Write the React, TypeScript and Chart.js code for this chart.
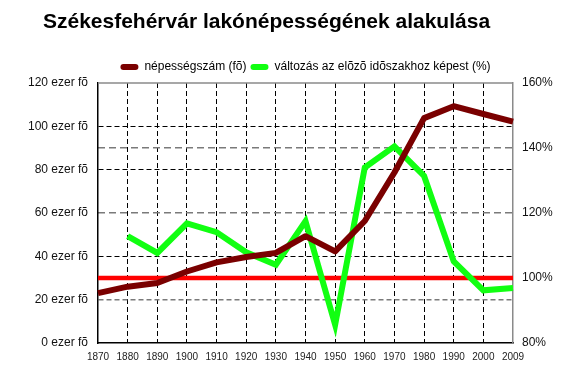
import React, { useEffect, useRef } from "react";
import { Chart, registerables } from "chart.js";

Chart.register(...registerables);

const TITLE = "Székesfehérvár lakónépességének alakulása";
const years = ["1870", "1880", "1890", "1900", "1910", "1920", "1930", "1940", "1950", "1960", "1970", "1980", "1990", "2000", "2009"];
const population = [23.0, 26.0, 27.7, 33.0, 37.2, 39.7, 41.6, 49.3, 42.3, 56.3, 78.7, 103.8, 109.3, 105.7, 102.2];
const changePct = [null, 112.9, 107.7, 116.8, 114.1, 107.9, 104.1, 117.5, 85.6, 134.0, 140.5, 131.4, 105.1, 96.2, 96.9];
const baseline = years.map(() => 100);
const popLabel = "népességszám (fõ)";
const changeLabel = "változás az elõzõ idõszakhoz képest (%)";
const leftTicks = [0, 20, 40, 60, 80, 100, 120];
const rightTicks = [80, 100, 120, 140, 160];

const FONT = "'Liberation Sans', Arial, sans-serif";

export default function App() {
  const ref = useRef<HTMLCanvasElement | null>(null);

  useEffect(() => {
    const canvas = ref.current;
    if (!canvas) return;

    const framePlugin = {
      id: "frame",
      beforeDatasetsDraw(chart: any) {
        const { ctx, chartArea } = chart;
        ctx.save();
        ctx.strokeStyle = "#8a8a8a";
        ctx.lineWidth = 1.5;
        ctx.beginPath();
        ctx.moveTo(chartArea.left, chartArea.top);
        ctx.lineTo(chartArea.right, chartArea.top);
        ctx.stroke();
        ctx.restore();
      },
      afterDraw(chart: any) {
        const { ctx } = chart;
        ctx.save();
        ctx.font = `bold 21px ${FONT}`;
        ctx.fillStyle = "#000";
        ctx.textAlign = "center";
        ctx.textBaseline = "alphabetic";
        ctx.fillText(TITLE, 266.5, 28);
        ctx.restore();
      },
    };

    const chart = new Chart(canvas, {
      type: "line",
      data: {
        labels: years,
        datasets: [
          {
            label: "base",
            data: baseline,
            yAxisID: "y1",
            borderColor: "#ff0000",
            backgroundColor: "#ff0000",
            borderWidth: 4.5,
            pointRadius: 0,
            tension: 0,
            order: 3,
          },
          {
            label: changeLabel,
            data: changePct,
            yAxisID: "y1",
            borderColor: "#11ff11",
            backgroundColor: "#11ff11",
            borderWidth: 6,
            pointRadius: 0,
            tension: 0,
            order: 2,
          },
          {
            label: popLabel,
            data: population,
            yAxisID: "y",
            borderColor: "#7a0000",
            backgroundColor: "#7a0000",
            borderWidth: 6,
            pointRadius: 0,
            tension: 0,
            borderJoinStyle: "round",
            order: 1,
          },
        ],
      },
      options: {
        animation: false,
        responsive: true,
        maintainAspectRatio: false,
        layout: { padding: { top: 57, left: 0, right: 0, bottom: 0 } },
        plugins: {
          title: { display: false },
          tooltip: { enabled: false },
          legend: {
            display: true,
            position: "top",
            fullSize: false,
            labels: {
              font: { family: FONT, size: 12 },
              color: "#000",
              boxWidth: 18,
              boxHeight: 6,
              padding: 4,
              useBorderRadius: true,
              borderRadius: 3,
              generateLabels(chart: any) {
                const items = Chart.defaults.plugins.legend.labels.generateLabels(chart);
                return items
                  .filter((it: any) => it.text !== "base")
                  .map((it: any) => ({ ...it, lineWidth: 0 }))
                  .sort((a: any, b: any) => (a.text === popLabel ? -1 : b.text === popLabel ? 1 : 0));
              },
            },
          },
        },
        scales: {
          x: {
            type: "category",
            offset: false,
            afterFit(scale: any) {
              scale.height = 24;
            },
            grid: {
              drawTicks: false,
              color: (c: any) => (c.index === 0 || c.index === years.length - 1 ? "rgba(0,0,0,0)" : "#000"),
              lineWidth: 1,
            },
            border: { display: true, color: "#000", width: 1.5, dash: [5, 3] },
            ticks: {
              font: { family: FONT, size: 10 },
              color: "#222",
              padding: 8,
              autoSkip: false,
              maxRotation: 0,
            },
          },
          y: {
            position: "left",
            min: 0,
            max: 120,
            afterFit(scale: any) {
              scale.width = 98;
            },
            afterBuildTicks(scale: any) {
              scale.ticks = leftTicks.map((v) => ({ value: v }));
            },
            grid: {
              drawTicks: false,
              color: (c: any) => {
                const v = c.tick ? c.tick.value : null;
                if (v === 0 || v === 120 || v === 60) return "rgba(0,0,0,0)";
                if (v === 20) return "#7a7a7a";
                return "#000";
              },
              lineWidth: (c: any) => {
                const v = c.tick ? c.tick.value : null;
                return v === 20 ? 1.6 : 1;
              },
            },
            border: { display: true, color: "#000", width: 1.5, dash: [5, 3] },
            ticks: {
              font: { family: FONT, size: 12 },
              color: "#111",
              padding: 10,
              callback: (v: any) => `${v} ezer fõ`,
            },
          },
          y1: {
            position: "right",
            min: 80,
            max: 160,
            afterFit(scale: any) {
              scale.width = 62;
            },
            afterBuildTicks(scale: any) {
              scale.ticks = rightTicks.map((v) => ({ value: v }));
            },
            grid: {
              drawTicks: false,
              drawOnChartArea: true,
              color: (c: any) => {
                const v = c.tick ? c.tick.value : null;
                if (v === 80 || v === 160) return "rgba(0,0,0,0)";
                return "#7a7a7a";
              },
              lineWidth: 1.6,
            },
            border: { display: true, color: "#8a8a8a", width: 1.5, dash: [7, 4] },
            ticks: {
              font: { family: FONT, size: 12 },
              color: "#111",
              padding: 9,
              callback: (v: any) => `${v}%`,
            },
          },
        },
      },
      plugins: [framePlugin],
    } as any);

    return () => chart.destroy();
  }, []);

  return (
    <div style={{ position: "fixed", left: 0, top: 0, width: 575, height: 367, background: "#fff" }}>
      <canvas ref={ref} />
    </div>
  );
}
